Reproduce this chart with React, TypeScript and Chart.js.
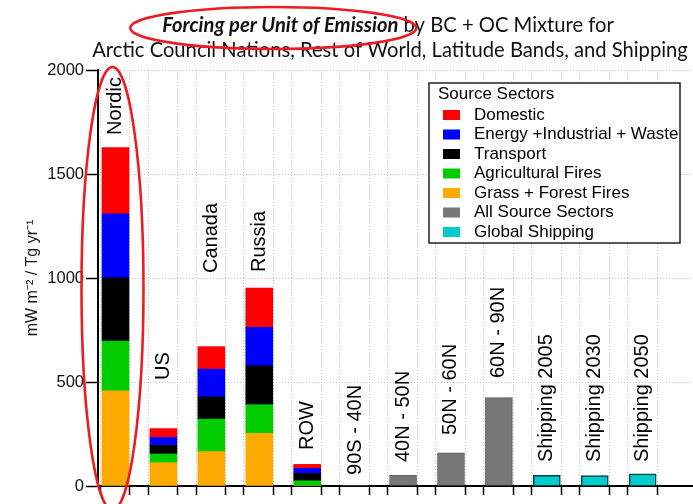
import { useEffect, useRef } from 'react';
import { Chart, registerables } from 'chart.js';

Chart.register(...registerables);

const categories = [
  'Nordic', 'US', 'Canada', 'Russia', 'ROW',
  '90S - 40N', '40N - 50N', '50N - 60N', '60N - 90N',
  'Shipping 2005', 'Shipping 2030', 'Shipping 2050',
];

// stacked from bottom to top
const grassForestFires = [457, 112, 165, 253, 0, null, null, null, null, null, null, null];
const agriculturalFires = [240, 42, 157, 138, 25, null, null, null, null, null, null, null];
const transport = [304, 42, 107, 187, 36, null, null, null, null, null, null, null];
const energyIndustrialWaste = [307, 38, 133, 185, 24, null, null, null, null, null, null, null];
const domestic = [319, 42, 108, 189, 19, null, null, null, null, null, null, null];
const allSourceSectors = [null, null, null, null, null, 5, 51, 160, 425, null, null, null];
const globalShipping = [null, null, null, null, null, null, null, null, null, 51, 50, 59];

// value (mW m-2 / Tg yr-1) where each rotated category label starts
const labelAnchors = [1688, 510, 1024, 1029, 173, 53, 115, 245, 519, 115, 115, 115];

const yTickValues = [0, 500, 1000, 1500, 2000];

const titleEmph = 'Forcing per Unit of Emission';
const titleRest = ' by BC + OC Mixture for';
const titleLine2 = 'Arctic Council Nations, Rest of World, Latitude Bands, and Shipping';
const yAxisTitle = 'mW m\u207B\u00B2 / Tg yr\u207B\u00B9';
const legendTitle = 'Source Sectors';

const ARIAL = '"Liberation Sans", Arial, sans-serif';
const TITLE_FONT = 'Lato, "Open Sans", sans-serif';

function toPoints(values: (number | null)[]) {
  const out: { x: number; y: number }[] = [];
  values.forEach((v, i) => {
    if (v !== null) out.push({ x: i, y: v });
  });
  return out;
}

const xTickValues = categories.flatMap((_, i) => [i - 0.32, i + 0.3]);

const titlePlugin = {
  id: 'twoLineTitle',
  afterDraw(chart: any) {
    const ctx = chart.ctx as CanvasRenderingContext2D;
    ctx.save();
    ctx.font = `20px ${TITLE_FONT}`;
    const w2ref = ctx.measureText(titleLine2).width;
    const size = (20 * 596) / w2ref;
    ctx.fillStyle = '#111';
    ctx.textBaseline = 'alphabetic';
    ctx.textAlign = 'left';
    ctx.font = `italic bold ${size}px ${TITLE_FONT}`;
    const wa = ctx.measureText(titleEmph).width;
    ctx.font = `${size}px ${TITLE_FONT}`;
    const wb = ctx.measureText(titleRest).width;
    const x0 = 388 - (wa + wb) / 2;
    ctx.font = `italic bold ${size}px ${TITLE_FONT}`;
    ctx.fillText(titleEmph, x0, 32);
    ctx.font = `${size}px ${TITLE_FONT}`;
    ctx.fillText(titleRest, x0 + wa, 32);
    ctx.textAlign = 'center';
    ctx.fillText(titleLine2, 390, 57);

    // red annotation ellipses
    ctx.strokeStyle = 'rgb(236, 28, 36)';
    ctx.lineWidth = 2.6;
    const eL = x0 - 32;
    const eR = x0 + wa + 18;
    ctx.beginPath();
    ctx.ellipse((eL + eR) / 2, 28, (eR - eL) / 2, 21, 0, 0, Math.PI * 2);
    ctx.stroke();

    const xs = chart.scales.x;
    const area = chart.chartArea;
    const cx = xs.getPixelForValue(0) - 3;
    const top = area.top - 3;
    const bottom = area.bottom + 24;
    ctx.beginPath();
    ctx.ellipse(cx, (top + bottom) / 2, 31, (bottom - top) / 2, 0, 0, Math.PI * 2);
    ctx.stroke();
    ctx.restore();
  },
};

const categoryLabelPlugin = {
  id: 'categoryLabels',
  afterDatasetsDraw(chart: any) {
    const ctx = chart.ctx as CanvasRenderingContext2D;
    const xs = chart.scales.x;
    const ys = chart.scales.y;
    ctx.save();
    ctx.fillStyle = '#000';
    ctx.font = `20px ${ARIAL}`;
    ctx.textAlign = 'left';
    ctx.textBaseline = 'middle';
    categories.forEach((label, i) => {
      const x = xs.getPixelForValue(i);
      const y = ys.getPixelForValue(labelAnchors[i]);
      ctx.save();
      ctx.translate(x, y);
      ctx.rotate(-Math.PI / 2);
      ctx.fillText(label, 0, 0);
      ctx.restore();
    });
    ctx.restore();
  },
};

const legendOrder = [4, 3, 2, 1, 0, 5, 6];

const boxLegendPlugin = {
  id: 'boxLegend',
  afterDraw(chart: any) {
    const ctx = chart.ctx as CanvasRenderingContext2D;
    const area = chart.chartArea;
    const left = area.right - 264;
    const top = area.top + 13;
    const w = 251;
    const h = 160;
    ctx.save();
    ctx.fillStyle = '#fff';
    ctx.fillRect(left, top, w, h);
    ctx.strokeStyle = '#222';
    ctx.lineWidth = 1.5;
    ctx.strokeRect(left, top, w, h);
    ctx.fillStyle = '#000';
    ctx.font = `17px ${ARIAL}`;
    ctx.textBaseline = 'middle';
    ctx.textAlign = 'left';
    ctx.fillText(legendTitle, left + 9, top + 11.5);
    legendOrder.forEach((di, k) => {
      const ds = chart.data.datasets[di];
      const cy = top + 32 + k * 19.5;
      ctx.fillStyle = ds.backgroundColor;
      ctx.fillRect(left + 14, cy - 5, 17, 10);
      ctx.fillStyle = '#000';
      ctx.fillText(ds.label, left + 45, cy);
    });
    ctx.restore();
  },
};

export default function App() {
  const canvasRef = useRef<HTMLCanvasElement | null>(null);

  useEffect(() => {
    if (!canvasRef.current) return;
    const sector = (label: string, values: (number | null)[], color: string) => ({
      label,
      data: toPoints(values),
      backgroundColor: color,
      borderWidth: 0,
    });
    const chart = new Chart(canvasRef.current, {
      type: 'bar',
      data: {
        datasets: [
          sector('Grass + Forest Fires', grassForestFires, '#FFAA00'),
          sector('Agricultural Fires', agriculturalFires, '#00CC00'),
          sector('Transport', transport, '#000000'),
          sector('Energy +Industrial + Waste', energyIndustrialWaste, '#0000FF'),
          sector('Domestic', domestic, '#FF0000'),
          {
            label: 'All Source Sectors',
            data: toPoints(allSourceSectors),
            backgroundColor: '#777777',
            borderColor: '#5c5c5c',
            borderWidth: 1,
          },
          {
            label: 'Global Shipping',
            data: toPoints(globalShipping),
            backgroundColor: '#00CCCC',
            borderColor: '#0b4040',
            borderWidth: 1.5,
          },
        ] as any,
      },
      options: {
        responsive: false,
        animation: false,
        devicePixelRatio: 1,
        barThickness: 27,
        layout: { padding: { top: 70, left: 0, right: 0, bottom: 0 } },
        plugins: {
          legend: { display: false },
          tooltip: { enabled: false },
          title: { display: false },
        },
        scales: {
          x: {
            type: 'linear',
            stacked: true,
            offset: false,
            bounds: 'data',
            min: -0.365,
            max: 12.05,
            afterBuildTicks: (scale: any) => {
              scale.ticks = xTickValues.map((v) => ({ value: v }));
            },
            afterFit: (scale: any) => {
              scale.height = 18;
            },
            ticks: { display: false },
            grid: {
              offset: false,
              color: '#c4c4c4',
              lineWidth: 1,
              drawTicks: true,
              tickLength: 9,
              tickColor: '#000',
              tickWidth: 1.5,
            },
            border: { display: true, color: '#000', width: 2, dash: [1, 2] },
          },
          y: {
            type: 'linear',
            stacked: true,
            min: 0,
            max: 2000,
            afterBuildTicks: (scale: any) => {
              scale.ticks = yTickValues.map((v) => ({ value: v }));
            },
            afterFit: (scale: any) => {
              scale.width = 98;
            },
            ticks: {
              color: '#111',
              padding: 2,
              font: { family: ARIAL, size: 16.5 },
              callback: (v: any) => String(v),
            },
            grid: {
              color: '#c4c4c4',
              lineWidth: 1,
              drawTicks: true,
              tickLength: 12,
              tickColor: '#000',
              tickWidth: 1.5,
            },
            border: { display: true, color: '#000', width: 2, dash: [1, 2] },
            title: {
              display: true,
              text: yAxisTitle,
              color: '#111',
              font: { family: ARIAL, size: 16 },
              padding: { top: 23, bottom: 0 },
            },
          },
        },
      } as any,
      plugins: [categoryLabelPlugin, boxLegendPlugin, titlePlugin],
    });
    return () => chart.destroy();
  }, []);

  return (
    <div style={{ position: 'absolute', left: 0, top: 0, width: 693, height: 504, background: '#fff' }}>
      <canvas ref={canvasRef} width={693} height={504} style={{ width: 693, height: 504, display: 'block' }} />
    </div>
  );
}
